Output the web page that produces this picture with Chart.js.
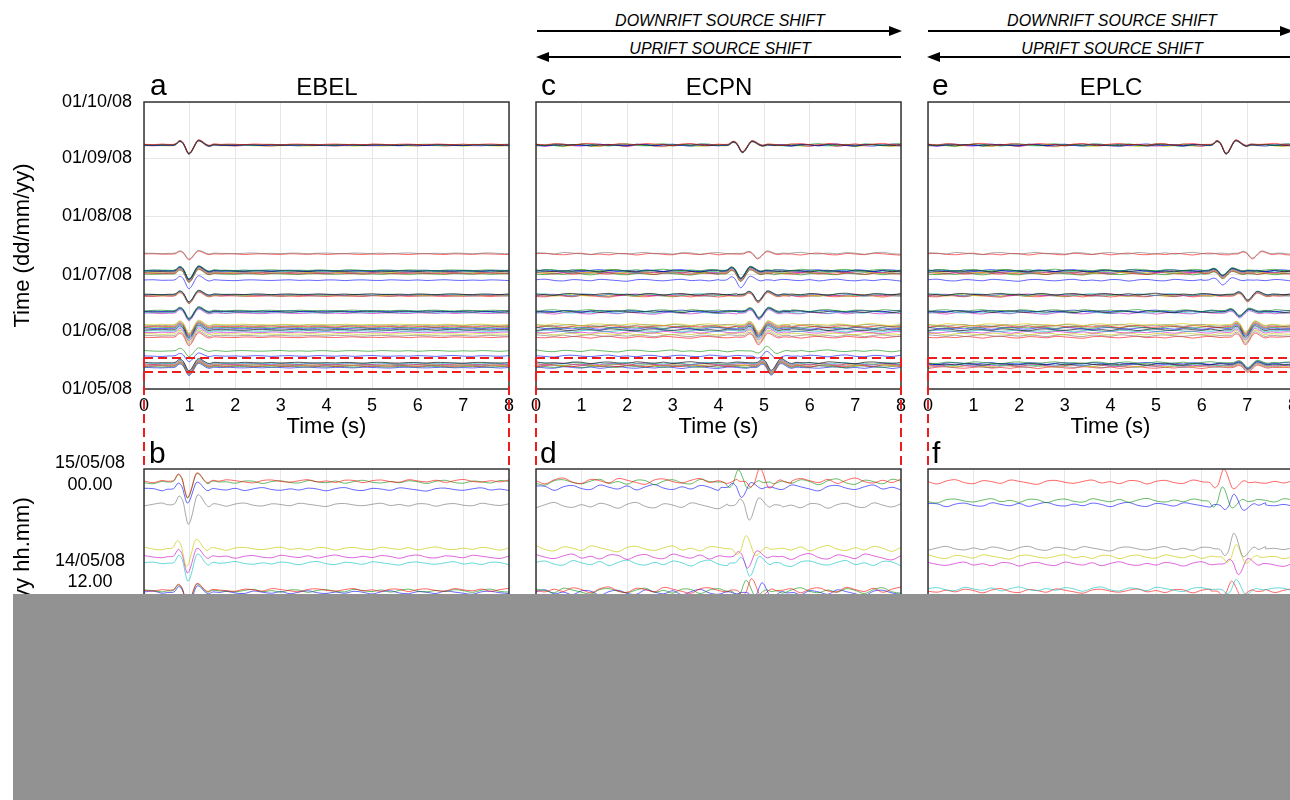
<!DOCTYPE html>
<html>
<head>
<meta charset="utf-8">
<title>EBEL ECPN EPLC</title>
<script src="https://cdn.jsdelivr.net/npm/chart.js@4.4.1/dist/chart.umd.min.js"></script>
<style>
  html, body { margin: 0; padding: 0; background: #fff; }
  body { width: 1290px; height: 800px; overflow: hidden; position: relative; font-family: Arial, "Liberation Sans", sans-serif; }
  canvas { position: absolute; }
  .lbl { position: absolute; line-height: 1; white-space: nowrap; color: #000; }
  .letter { font-size: 30px; }
  .station { font-size: 24px; transform: translateX(-50%); }
  .shift { font-size: 16px; font-style: italic; transform: translateX(-50%); }
  #arrows { position: absolute; left: 0; top: 0; }
  #mask { position: absolute; left: 13px; top: 594px; width: 1277px; height: 206px; background: #929292; z-index: 10; }
</style>
</head>
<body>
<svg id="arrows" width="1290" height="70">
  <g stroke="#000" stroke-width="2.2">
    <line x1="537" y1="31" x2="892" y2="31"/>
    <line x1="546" y1="57" x2="901" y2="57"/>
    <line x1="928" y1="31" x2="1283" y2="31"/>
    <line x1="937" y1="57" x2="1292" y2="57"/>
  </g>
  <g fill="#000">
    <polygon points="902,31 889,26 889,36"/>
    <polygon points="536,57 549,52 549,62"/>
    <polygon points="1293,31 1280,26 1280,36"/>
    <polygon points="927,57 940,52 940,62"/>
  </g>
</svg>
<div class="lbl shift" style="left:720px;top:13px">DOWNRIFT SOURCE SHIFT</div>
<div class="lbl shift" style="left:720px;top:41px">UPRIFT SOURCE SHIFT</div>
<div class="lbl shift" style="left:1112px;top:13px">DOWNRIFT SOURCE SHIFT</div>
<div class="lbl shift" style="left:1112px;top:41px">UPRIFT SOURCE SHIFT</div>

<canvas id="chartA" width="520" height="409" style="left:0;top:60px"></canvas>
<canvas id="chartC" width="396" height="409" style="left:516px;top:60px"></canvas>
<canvas id="chartE" width="396" height="409" style="left:908px;top:60px"></canvas>
<canvas id="chartB" width="520" height="360" style="left:0;top:440px"></canvas>
<canvas id="chartD" width="396" height="360" style="left:516px;top:440px"></canvas>
<canvas id="chartF" width="396" height="360" style="left:908px;top:440px"></canvas>

<div class="lbl letter" style="left:150px;top:70px">a</div>
<div class="lbl station" style="left:327px;top:75px">EBEL</div>
<div class="lbl letter" style="left:541px;top:70px">c</div>
<div class="lbl station" style="left:719px;top:75px">ECPN</div>
<div class="lbl letter" style="left:932px;top:70px">e</div>
<div class="lbl station" style="left:1111px;top:75px">EPLC</div>
<div class="lbl letter" style="left:149px;top:438px">b</div>
<div class="lbl letter" style="left:540px;top:438px">d</div>
<div class="lbl letter" style="left:932px;top:438px">f</div>

<div id="mask"></div>

<script>
// x axis: seconds of waveform
var secMin = 0
var secMax = 8

// y axis of the overview panels: day of year 2008
var dayTicks = [122, 153, 183, 214, 245, 275]
var dayLabels = ['01/05/08', '01/06/08', '01/07/08', '01/08/08', '01/09/08', '01/10/08']

// window shown in the detail panels (day of year)
var zoomWindow = [131.1, 138.5]

// y axis of the detail panels: hours after 14/05/08 00.00
var hourMin = -11.58
var hourMax = 24.6
var hourTicks = [12, 24]
var hourLabels = [['14/05/08', '12.00'], ['15/05/08', '00.00']]

// events, grouped by swarm (day of year)
var swarmDays = [
  [252.4, 252.25, 252.1, 252.0, 251.9, 251.8, 251.65],
  [194.3, 193.9],
  [185.3, 185.1, 184.9, 184.7, 184.4, 184.2, 183.9, 183.6, 183.3, 180.0],
  [172.5, 172.3, 172.1, 171.9, 171.7, 171.5],
  [163.8, 163.5, 163.2, 162.8, 162.4],
  [156.3, 155.9, 155.3, 154.8, 154.3, 153.6, 152.9, 152.2, 151.3, 150.4, 149.6],
  [142.3, 139.6],
  [136.0, 135.6, 135.2, 134.9, 134.6, 134.3, 133.9, 133.4]
]

// first arrival (s) and wavelet amplitude (days) per swarm at each station
var arrivalEBEL = [0.98, 0.98, 0.98, 0.98, 0.98, 0.98, 0.98, 0.98]
var ampEBEL = [4.6, 3.0, 4.5, 4.0, 4.0, 4.5, 3.0, 4.2]
var arrivalECPN = [4.52, 4.85, 4.48, 4.86, 4.88, 4.87, 5.05, 5.15]
var ampECPN = [3.8, 2.5, 4.0, 3.5, 3.5, 4.0, -2.5, 4.0]
var arrivalEPLC = [6.53, 7.1, 6.45, 7.0, 6.82, 6.95, null, 7.0]
var ampEPLC = [4.6, 2.5, 2.5, 3.0, 2.5, 4.0, null, 2.5]

// detail traces (hours), arrival (s), amplitude (hours)
var ebelDetailHours = [23.1, 23.0, 22.1, 20.2, 14.8, 13.8, 13.0, 9.7, 9.6, 9.4]
var ebelDetailArrivals = [0.95, 0.95, 0.95, 0.97, 0.93, 0.95, 0.96, 0.95, 0.95, 0.96]
var ebelDetailAmps = [2.0, 2.0, 1.7, 2.4, 2.2, 2.0, 2.2, 1.6, 1.6, 1.6]
var ecpnDetailHours = [23.1, 23.0, 22.3, 20.1, 14.8, 13.8, 13.0, 9.7, 9.6, 9.4]
var ecpnDetailArrivals = [4.9, 4.43, 4.5, 4.67, 4.6, 4.63, 4.68, 4.72, 4.6, 4.95]
var ecpnDetailAmps = [-1.6, -1.5, 1.2, 1.8, -1.6, 1.4, 1.6, -1.4, -1.3, -1.2]
var eplcDetailHours = [23.0, 20.7, 20.2, 14.8, 13.8, 12.9, 9.8, 9.6]
var eplcDetailArrivals = [6.48, 6.45, 6.7, 6.7, 6.75, 6.8, 6.75, 6.65]
var eplcDetailAmps = [-1.6, -1.7, -1.3, -1.9, -1.5, 1.3, -1.2, -1.2]

// P wavelet around the trough (s, normalised amplitude)
var waveT = [-0.45, -0.3, -0.2, -0.12, -0.05, 0, 0.06, 0.13, 0.2, 0.27, 0.36, 0.45, 0.55, 0.7]
var waveA = [0, 0.05, 0.45, 0.2, -0.6, -1, -0.75, -0.05, 0.5, 0.45, 0.1, -0.1, 0.05, 0]

// background noise, one sample every 0.2 s
var rippleStep = 0.2
var ripple = [0.2, -0.3, 0.5, 0.1, -0.6, 0.3, 0.7, -0.2, -0.5, 0.4, 0.1, -0.4, 0.6, 0.2, -0.3, -0.7, 0.3, 0.5, -0.1, -0.4,
  0.2, 0.6, -0.3, 0.1, -0.5, 0.4, 0.3, -0.6, 0.2, 0.5, -0.2, -0.4, 0.6, 0.1, -0.3, 0.4, -0.5, 0.2, 0.7, -0.1, -0.4]

var palette = ['rgba(255,0,0,0.6)', 'rgba(0,140,0,0.6)', 'rgba(0,0,255,0.6)', 'rgba(0,0,0,0.65)',
  'rgba(0,190,190,0.6)', 'rgba(200,0,200,0.6)', 'rgba(200,200,0,0.65)', 'rgba(110,110,110,0.6)']
var detailColors = [0, 1, 2, 7, 6, 5, 4, 0, 1, 2]

var tickFont = { family: 'Arial, "Liberation Sans"', size: 18 }
var titleFont = { family: 'Arial, "Liberation Sans"', size: 22 }

function buildTrace (base, arrival, amp, rippleAmp, shift) {
  var pts = []
  var lo = arrival + waveT[0]
  var hi = arrival + waveT[waveT.length - 1]
  for (var i = 0; i < ripple.length; i++) {
    var t = i * rippleStep
    if (t > lo && t < hi) continue
    pts.push({ x: t, y: base + rippleAmp * ripple[(i + shift) % ripple.length] })
  }
  for (var k = 0; k < waveT.length; k++) {
    pts.push({ x: arrival + waveT[k], y: base + amp * waveA[k] })
  }
  pts.sort(function (p, q) { return p.x - q.x })
  return pts
}

function lineSet (pts, color) {
  return { data: pts, borderColor: color, borderWidth: 1, pointRadius: 0, tension: 0.35, fill: false }
}

var framePlugin = {
  id: 'frame',
  afterDatasetsDraw: function (chart) {
    var a = chart.chartArea
    var c = chart.ctx
    c.save()
    c.strokeStyle = '#333'
    c.lineWidth = 1.5
    c.strokeRect(a.left, a.top, a.right - a.left, a.bottom - a.top)
    c.restore()
  }
}

// red dashed window, its sides run down to the detail panel
var zoomBoxPlugin = {
  id: 'zoomBox',
  afterDraw: function (chart) {
    var a = chart.chartArea
    var ys = chart.scales.y
    var y1 = ys.getPixelForValue(zoomWindow[1])
    var y2 = ys.getPixelForValue(zoomWindow[0])
    var c = chart.ctx
    c.save()
    c.strokeStyle = '#ee1c1c'
    c.lineWidth = 2
    c.setLineDash([9, 5])
    c.beginPath()
    c.moveTo(a.left, y1); c.lineTo(a.right, y1)
    c.moveTo(a.left, y2); c.lineTo(a.right, y2)
    c.moveTo(a.left, y1); c.lineTo(a.left, chart.height)
    c.moveTo(a.right, y1); c.lineTo(a.right, chart.height)
    c.stroke()
    c.restore()
  }
}

function xAxis (h) {
  return {
    type: 'linear',
    min: secMin,
    max: secMax,
    afterFit: function (s) { s.height = h; s.paddingLeft = 0; s.paddingRight = 0 },
    border: { display: false },
    grid: { color: '#e6e6e6', drawTicks: false },
    ticks: { stepSize: 1, padding: 6, color: '#000', font: tickFont, maxRotation: 0 },
    title: { display: true, text: 'Time (s)', color: '#000', font: titleFont, padding: { top: 0, bottom: 0 } }
  }
}

// fixed axis width, no extra room for labels hanging past the plot
function fixWidth (w) {
  return function (s) { s.width = w; s.paddingTop = 0; s.paddingBottom = 0 }
}

function overviewChart (id, axisW, arrivals, amps, rippleAmp, showLabels) {
  var datasets = []
  var n = 0
  swarmDays.forEach(function (days, s) {
    if (arrivals[s] === null) return
    days.forEach(function (d) {
      datasets.push(lineSet(buildTrace(d, arrivals[s], amps[s], rippleAmp, (n * 7 + s) % ripple.length), palette[n % palette.length]))
      n++
    })
  })
  return new Chart(document.getElementById(id), {
    type: 'line',
    data: { datasets: datasets },
    options: {
      responsive: false,
      animation: false,
      layout: { padding: { top: 42, right: 11, bottom: 29, left: 0 } },
      plugins: { legend: { display: false }, tooltip: { enabled: false } },
      scales: {
        x: xAxis(51),
        y: {
          type: 'linear',
          min: dayTicks[0],
          max: dayTicks[dayTicks.length - 1],
          afterFit: fixWidth(axisW),
          afterBuildTicks: function (s) { s.ticks = dayTicks.map(function (v) { return { value: v } }) },
          border: { display: false },
          grid: { color: '#e6e6e6', drawTicks: false },
          ticks: {
            display: showLabels,
            autoSkip: false,
            padding: 12,
            color: '#000',
            font: tickFont,
            callback: function (v) { return dayLabels[dayTicks.indexOf(v)] }
          },
          title: { display: showLabels, text: 'Time (dd/mm/yy)', color: '#000', font: titleFont, padding: { top: 10, bottom: 0 } }
        }
      }
    },
    plugins: [framePlugin, zoomBoxPlugin]
  })
}

function detailChart (id, axisW, hours, arrivals, amps, rippleAmp, showLabels) {
  var datasets = hours.map(function (h, i) {
    return lineSet(buildTrace(h, arrivals[i], amps[i], rippleAmp, (i * 11 + 3) % ripple.length), palette[detailColors[i]])
  })
  return new Chart(document.getElementById(id), {
    type: 'line',
    data: { datasets: datasets },
    options: {
      responsive: false,
      animation: false,
      layout: { padding: { top: 29, right: 11, bottom: 0, left: 0 } },
      plugins: { legend: { display: false }, tooltip: { enabled: false } },
      scales: {
        x: xAxis(37),
        y: {
          type: 'linear',
          min: hourMin,
          max: hourMax,
          afterFit: fixWidth(axisW),
          afterBuildTicks: function (s) { s.ticks = hourTicks.map(function (v) { return { value: v } }) },
          border: { display: false },
          grid: { display: false },
          ticks: {
            display: showLabels,
            autoSkip: false,
            crossAlign: 'center',
            padding: 11,
            color: '#000',
            font: tickFont,
            callback: function (v) { return hourLabels[hourTicks.indexOf(v)] }
          },
          title: { display: showLabels, text: 'Time (dd/mm/yy hh.mm)', color: '#000', font: titleFont, padding: { top: 10, bottom: 0 } }
        }
      }
    },
    plugins: [framePlugin]
  })
}

document.addEventListener('DOMContentLoaded', function () {
  overviewChart('chartA', 144, arrivalEBEL, ampEBEL, 0.35, true)
  overviewChart('chartC', 20, arrivalECPN, ampECPN, 0.8, false)
  overviewChart('chartE', 20, arrivalEPLC, ampEPLC, 0.8, false)
  detailChart('chartB', 144, ebelDetailHours, ebelDetailArrivals, ebelDetailAmps, 0.3, true)
  detailChart('chartD', 20, ecpnDetailHours, ecpnDetailArrivals, ecpnDetailAmps, 0.55, false)
  detailChart('chartF', 20, eplcDetailHours, eplcDetailArrivals, eplcDetailAmps, 0.4, false)
})
</script>
</body>
</html>
